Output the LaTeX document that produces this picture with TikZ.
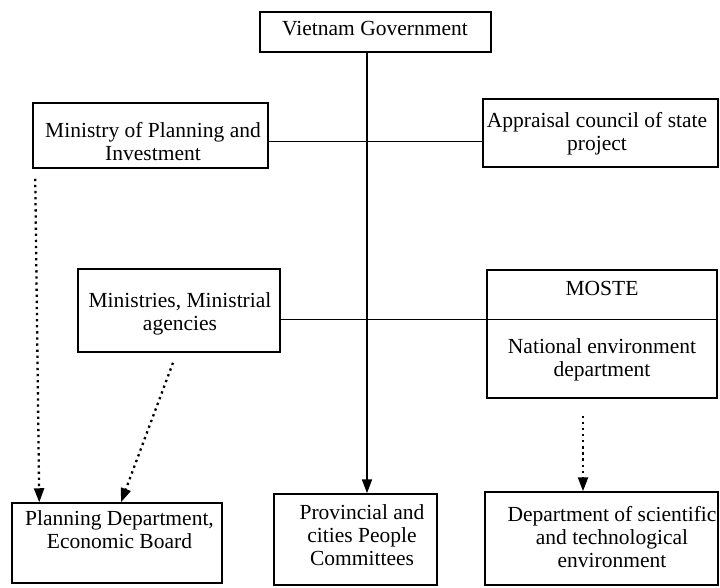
\documentclass[tikz,border=0pt]{standalone}
\usepackage{fontspec}
\setmainfont{Liberation Serif}
\usetikzlibrary{arrows.meta,calc}
\begin{document}
\begin{tikzpicture}[x=1pt,y=-1pt,
  box/.style={draw, line width=1.5pt, inner sep=0pt},
  lbl/.style={font=\fontsize{21.5}{23}\selectfont, align=center, anchor=base, inner sep=0pt},
  link/.style={line width=1pt},
  spine/.style={line width=1.8pt, -{Triangle[length=14pt,width=10pt]}},
  dotarrow/.style={line width=2.3pt, dash pattern=on 2.3pt off 3.8pt, -{Triangle[length=14pt,width=10pt]}}
]
\useasboundingbox (0,0) rectangle (720,587);

% boxes
\node[box, minimum width=231pt, minimum height=40pt] (gov)   at (375.5,32)  {};
\node[box, minimum width=235pt, minimum height=65pt] (mpi)   at (150.5,135.5) {};
\node[box, minimum width=235pt, minimum height=68pt] (appr)  at (600.5,133) {};
\node[box, minimum width=202pt, minimum height=83pt] (mins)  at (179,310.5) {};
\node[box, minimum width=230pt, minimum height=128pt] (moste) at (602,334) {};
\node[box, minimum width=210pt, minimum height=80pt] (plan)  at (117,543) {};
\node[box, minimum width=163pt, minimum height=91pt] (prov)  at (355.5,539.5) {};
\node[box, minimum width=233pt, minimum height=93pt] (dept)  at (601.5,538.5) {};

% labels (positioned by the baseline of their last line)
\node[lbl] (gov-t)   at (375,35)    {Vietnam Government};
\node[lbl] (mpi-t)   at (153,160)   {Ministry of Planning and\\Investment};
\node[lbl] (appr-t)  at (597,150)   {Appraisal council of state\\project};
\node[lbl] (mins-t)  at (180,330)   {Ministries, Ministrial\\agencies};
\node[lbl] (moste-t) at (602,295)   {MOSTE};
\node[lbl] (nat-t)   at (602,376)   {National environment\\department};
\node[lbl] (plan-t)  at (119.5,548) {Planning Department,\\Economic Board};
\node[lbl] (prov-t)  at (362,565)   {Provincial and\\cities People\\Committees};
\node[lbl] (dept-t)  at (612,567)   {Department of scientific\\and technological\\environment};

% helper coordinates
\coordinate (spinex) at (367,0);
\coordinate (row1) at (0,141);
\coordinate (row2) at (0,319);

% links
\draw[spine] (gov.south -| spinex) -- (prov.north -| spinex);
\draw[link] (mpi.east |- row1) -- (appr.west |- row1);
\draw[link] (mins.east |- row2) -- (moste.west |- row2);
\draw[link] (moste.west |- row2) -- (moste.east |- row2);

% dotted arrows
\draw[dotarrow] ($(mpi.south west)+(3,10)$) -- ($(plan.north west)+(28,0)$);
\draw[dotarrow] ($(mins.south)+(-6,10)$) -- ($(plan.north)+(4,0)$);
\draw[dotarrow] ($(moste.south)+(-19,17)$) -- ($(dept.north)+(-18.5,0)$);
\end{tikzpicture}
\end{document}
